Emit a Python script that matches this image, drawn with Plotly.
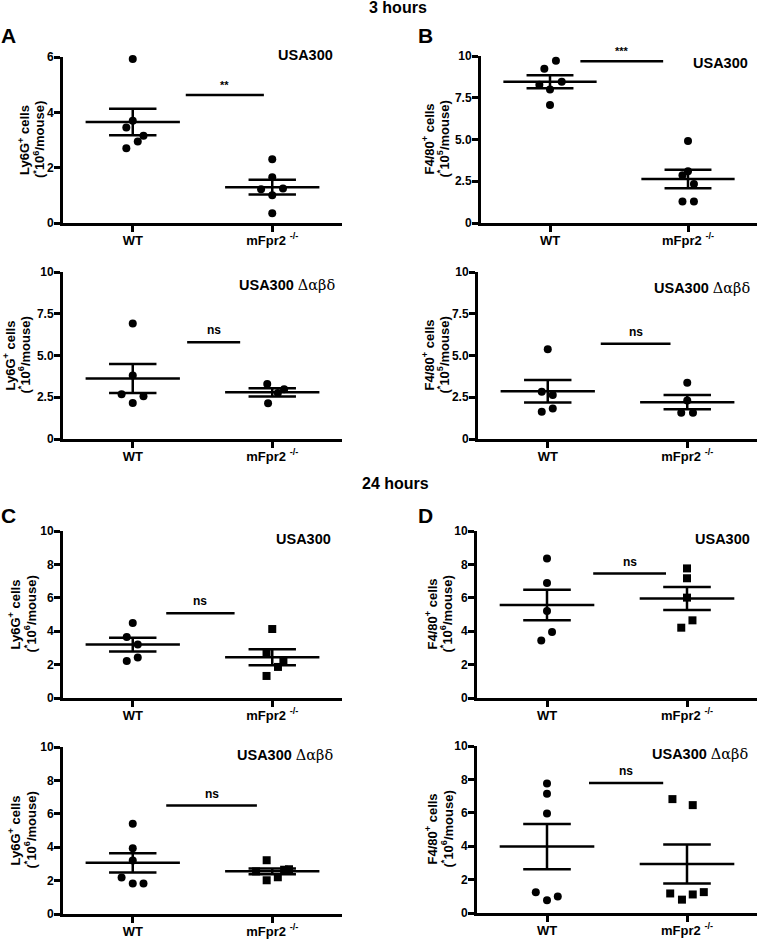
import numpy as np
import plotly.graph_objects as go

W, H = 760, 939
FONT = "Liberation Sans, Arial, Helvetica, sans-serif"
SERIF = "DejaVu Serif, Liberation Serif, serif"

categories = ["WT", "mFpr2 <sup>-/-</sup>"]

# ---------------- data ----------------
# 3 hours, USA300, Ly6G+ (x10^6/mouse)
A_wt = [5.93, 3.70, 3.45, 3.15, 2.95, 2.70]
A_wt_dx = [0.0, 0.0, -0.046, 0.077, 0.036, -0.046]
A_ko = [2.30, 1.65, 1.22, 1.25, 1.00, 0.35]
A_ko_dx = [0.0, 0.0, -0.08, 0.077, 0.0, 0.0]
A_sig, A_sig_y, A_sig_x = "**", 4.63, [1.38, 1.94]

# 3 hours, USA300, F4/80+ (x10^5/mouse)
B_wt = [9.72, 9.24, 8.28, 8.46, 7.99, 7.06]
B_wt_dx = [0.043, -0.041, -0.077, 0.085, 0.0, 0.0]
B_ko = [4.91, 3.10, 2.86, 2.34, 1.29, 1.29]
B_ko_dx = [0.0, 0.0, -0.04, 0.043, -0.04, 0.043]
B_sig, B_sig_y, B_sig_x = "***", 9.68, [1.22, 1.82]

# 3 hours, USA300 delta-alpha-beta-delta, Ly6G+
A2_wt = [6.92, 3.80, 2.68, 2.56, 2.16]
A2_wt_dx = [0.0, 0.0, -0.08, 0.077, 0.0]
A2_ko = [3.30, 2.98, 2.76, 2.14]
A2_ko_dx = [-0.036, 0.085, 0.04, -0.03]
A2_sig, A2_sig_y, A2_sig_x = "ns", 5.8, [1.39, 1.77]

# 3 hours, USA300 delta-alpha-beta-delta, F4/80+
B2_wt = [5.37, 2.83, 2.63, 1.63, 1.83]
B2_wt_dx = [0.0, -0.043, 0.036, -0.043, 0.036]
B2_ko = [3.37, 2.31, 1.57, 1.57]
B2_ko_dx = [0.0, 0.0, -0.043, 0.041]
B2_sig, B2_sig_y, B2_sig_x = "ns", 5.7, [1.38, 1.88]

# 24 hours, USA300, Ly6G+
C_wt = [4.49, 3.65, 3.21, 2.22, 2.42]
C_wt_dx = [0.0, -0.043, 0.036, -0.043, 0.036]
C_ko = [4.13, 2.69, 2.22, 1.86, 1.32]
C_ko_dx = [0.0, -0.041, 0.08, 0.041, -0.041]
C_sig, C_sig_y, C_sig_x = "ns", 5.07, [1.24, 1.73]

# 24 hours, USA300, F4/80+ (x10^6/mouse)
D_wt = [8.36, 6.89, 5.21, 3.95, 3.45]
D_wt_dx = [0.0, 0.0, 0.0, 0.036, -0.041]
D_ko = [7.76, 7.17, 6.01, 4.65, 4.21]
D_ko_dx = [0.0, 0.0, 0.0, 0.039, -0.041]
D_sig, D_sig_y, D_sig_x = "ns", 7.45, [1.33, 1.85]

# 24 hours, USA300 delta-alpha-beta-delta, Ly6G+
C2_wt = [5.41, 3.93, 3.21, 2.18, 1.82, 1.82]
C2_wt_dx = [0.0, 0.0, 0.0, -0.08, 0.0, 0.077]
C2_ko = [3.22, 2.55, 2.65, 2.68, 2.02, 2.20]
C2_ko_dx = [-0.04, -0.116, 0.085, 0.12, -0.04, 0.04]
C2_sig, C2_sig_y, C2_sig_x = "ns", 6.49, [1.24, 1.89]

# 24 hours, USA300 delta-alpha-beta-delta, F4/80+
D2_wt = [7.75, 7.14, 5.96, 1.25, 0.76, 0.99]
D2_wt_dx = [0.0, 0.0, 0.0, -0.08, 0.0, 0.077]
D2_ko = [6.82, 6.46, 1.17, 0.80, 1.11, 1.25]
D2_ko_dx = [-0.104, 0.041, -0.12, -0.036, 0.041, 0.12]
D2_sig, D2_sig_y, D2_sig_x = "ns", 7.79, [1.30, 1.83]

yticks_6 = [0, 2, 4, 6]
yticklabels_6 = ["0", "2", "4", "6"]
yticks_10h = [0, 2.5, 5, 7.5, 10]
yticklabels_10h = ["0", "2.5", "5.0", "7.5", "10"]
yticks_10 = [0, 2, 4, 6, 8, 10]
yticklabels_10 = ["0", "2", "4", "6", "8", "10"]

LY6G = ("Ly6G<sup>+</sup> cells", "(<sup>*</sup>10<sup>6</sup>/mouse)")
F480_5 = ("F4/80<sup>+</sup> cells", "(<sup>*</sup>10<sup>5</sup>/mouse)")
F480_6 = ("F4/80<sup>+</sup> cells", "(<sup>*</sup>10<sup>6</sup>/mouse)")
S1 = "<b>USA300</b>"
S2 = "<b>USA300</b> <span style='font-family:" + SERIF + "'>Δαβδ</span>"

# ---------------- layout of panels (pixel boxes) ----------------
panels = [
    dict(wt=A_wt, wdx=A_wt_dx, ko=A_ko, kdx=A_ko_dx, sym="circle", ymax=6,
         tv=yticks_6, tt=yticklabels_6, ylab=LY6G, strain=S1,
         sig=A_sig, sy=A_sig_y, sx=A_sig_x, box=(63, 342, 57, 223),
         tx=(24, 39), spos=(335, 55)),
    dict(wt=B_wt, wdx=B_wt_dx, ko=B_ko, kdx=B_ko_dx, sym="circle", ymax=10,
         tv=yticks_10h, tt=yticklabels_10h, ylab=F480_5, strain=S1,
         sig=B_sig, sy=B_sig_y, sx=B_sig_x, box=(481, 757, 56, 223),
         tx=(428, 443), spos=(750, 63)),
    dict(wt=A2_wt, wdx=A2_wt_dx, ko=A2_ko, kdx=A2_ko_dx, sym="circle", ymax=10,
         tv=yticks_10h, tt=yticklabels_10h, ylab=LY6G, strain=S2,
         sig=A2_sig, sy=A2_sig_y, sx=A2_sig_x, box=(63, 342, 272, 439),
         tx=(9, 24), spos=(337, 285)),
    dict(wt=B2_wt, wdx=B2_wt_dx, ko=B2_ko, kdx=B2_ko_dx, sym="circle", ymax=10,
         tv=yticks_10h, tt=yticklabels_10h, ylab=F480_5, strain=S2,
         sig=B2_sig, sy=B2_sig_y, sx=B2_sig_x, box=(478, 757, 272, 439),
         tx=(428, 443), spos=(752, 288)),
    dict(wt=C_wt, wdx=C_wt_dx, ko=C_ko, kdx=C_ko_dx, sym="square", ymax=10,
         tv=yticks_10, tt=yticklabels_10, ylab=LY6G, strain=S1,
         sig=C_sig, sy=C_sig_y, sx=C_sig_x, box=(63, 342, 531, 698),
         tx=(14, 30), spos=(333, 539)),
    dict(wt=D_wt, wdx=D_wt_dx, ko=D_ko, kdx=D_ko_dx, sym="square", ymax=10,
         tv=yticks_10, tt=yticklabels_10, ylab=F480_6, strain=S1,
         sig=D_sig, sy=D_sig_y, sx=D_sig_x, box=(477, 757, 531, 698),
         tx=(431, 446), spos=(752, 539)),
    dict(wt=C2_wt, wdx=C2_wt_dx, ko=C2_ko, kdx=C2_ko_dx, sym="square", ymax=10,
         tv=yticks_10, tt=yticklabels_10, ylab=LY6G, strain=S2,
         sig=C2_sig, sy=C2_sig_y, sx=C2_sig_x, box=(63, 342, 747, 914),
         tx=(14, 30), spos=(335, 755)),
    dict(wt=D2_wt, wdx=D2_wt_dx, ko=D2_ko, kdx=D2_ko_dx, sym="square", ymax=10,
         tv=yticks_10, tt=yticklabels_10, ylab=F480_6, strain=S2,
         sig=D2_sig, sy=D2_sig_y, sx=D2_sig_x, box=(477, 757, 746, 913),
         tx=(431, 447), spos=(750, 754)),
]


def px(x):
    return x / W


def py(y):
    return 1 - y / H


fig = go.Figure()
annotations = []
layout = {}

ytickfont = dict(family=FONT, size=12, color="black", weight="bold")
xtickfont = dict(family=FONT, size=13, color="black", weight="bold")
MEAN_HW, SEM_HW = 0.338, 0.17
AXW = 3
TICK = 6

for i, p in enumerate(panels):
    n = "" if i == 0 else str(i + 1)
    xa, ya = "x" + n, "y" + n
    x0, x1, y0, y1 = p["box"]
    common = dict(ticks="outside", ticklen=TICK, tickwidth=AXW,
                  tickcolor="#000000", showline=True, linewidth=AXW,
                  linecolor="#000000", showgrid=False, zeroline=False,
                  fixedrange=True, layer="above traces")
    layout["xaxis" + n] = dict(
        domain=[px(x0), px(x1)], range=[0.5, 2.5], anchor=ya,
        tickvals=[1, 2], ticktext=categories, tickfont=xtickfont,
        ticklabelstandoff=-3, **common)
    layout["yaxis" + n] = dict(
        domain=[py(y1), py(y0)], range=[0, p["ymax"]], anchor=xa,
        tickvals=p["tv"], ticktext=p["tt"], tickfont=ytickfont,
        ticklabelstandoff=-2, **common)

    for cat, vals, dx, sym in ((1, p["wt"], p["wdx"], "circle"),
                               (2, p["ko"], p["kdx"], p["sym"])):
        v = np.array(vals, dtype=float)
        xs = cat + np.array(dx)
        fig.add_trace(go.Scatter(
            x=xs, y=v, mode="markers", xaxis=xa, yaxis=ya, cliponaxis=False,
            marker=dict(symbol=sym, size=8, color="black"), showlegend=False))
        m = v.mean()
        s = v.std(ddof=1) / np.sqrt(len(v))
        lx = [cat - MEAN_HW, cat + MEAN_HW, None,
              cat - SEM_HW, cat + SEM_HW, None,
              cat - SEM_HW, cat + SEM_HW, None,
              cat, cat]
        ly = [m, m, None, m + s, m + s, None, m - s, m - s, None, m + s, m - s]
        fig.add_trace(go.Scatter(
            x=lx, y=ly, mode="lines", xaxis=xa, yaxis=ya, cliponaxis=False,
            line=dict(color="black", width=2.5), showlegend=False,
            hoverinfo="skip"))

    # significance bar
    fig.add_trace(go.Scatter(
        x=p["sx"], y=[p["sy"], p["sy"]], mode="lines", xaxis=xa, yaxis=ya,
        line=dict(color="black", width=2.5), showlegend=False,
        hoverinfo="skip", cliponaxis=False))
    annotations.append(dict(
        x=sum(p["sx"]) / 2, y=p["sy"], xref=xa, yref=ya, text="<b>%s</b>" % p["sig"],
        showarrow=False, yanchor="bottom", yshift=2 if p["sig"] != "ns" else 3,
        font=dict(family=FONT, size=12 if p["sig"] == "ns" else 11, color="black")))

    # y-axis title (two lines)
    for line_txt, lx_px in zip(p["ylab"], p["tx"]):
        annotations.append(dict(
            x=px(lx_px), y=py((y0 + y1) / 2), xref="paper", yref="paper",
            text="<b>" + line_txt + "</b>", textangle=-90, showarrow=False,
            xanchor="center", yanchor="middle",
            font=dict(family=FONT, size=13, color="black")))

    # strain label
    annotations.append(dict(
        x=px(p["spos"][0]), y=py(p["spos"][1]), xref="paper", yref="paper",
        text=p["strain"], showarrow=False, xanchor="right", yanchor="middle",
        font=dict(family=FONT, size=14.5, color="black")))

# headings and panel letters
for txt, x, y, size in (("3 hours", 398, 8, 16), ("24 hours", 395, 483, 16),
                        ("A", 8, 35, 21), ("B", 425, 35, 21),
                        ("C", 8, 515, 21), ("D", 425, 515, 21)):
    annotations.append(dict(
        x=px(x), y=py(y), xref="paper", yref="paper", text="<b>%s</b>" % txt,
        showarrow=False, xanchor="center", yanchor="middle",
        font=dict(family=FONT, size=size, color="black")))

fig.update_layout(
    width=W, height=H, margin=dict(l=0, r=0, t=0, b=0),
    paper_bgcolor="white", plot_bgcolor="white", template="none",
    annotations=annotations, showlegend=False,
    font=dict(family=FONT, color="black"), **layout)

fig.write_html(
    "out.html", config=dict(displayModeBar=False),
    post_script="document.body.style.margin='0';"
                "document.body.style.overflow='hidden';")
